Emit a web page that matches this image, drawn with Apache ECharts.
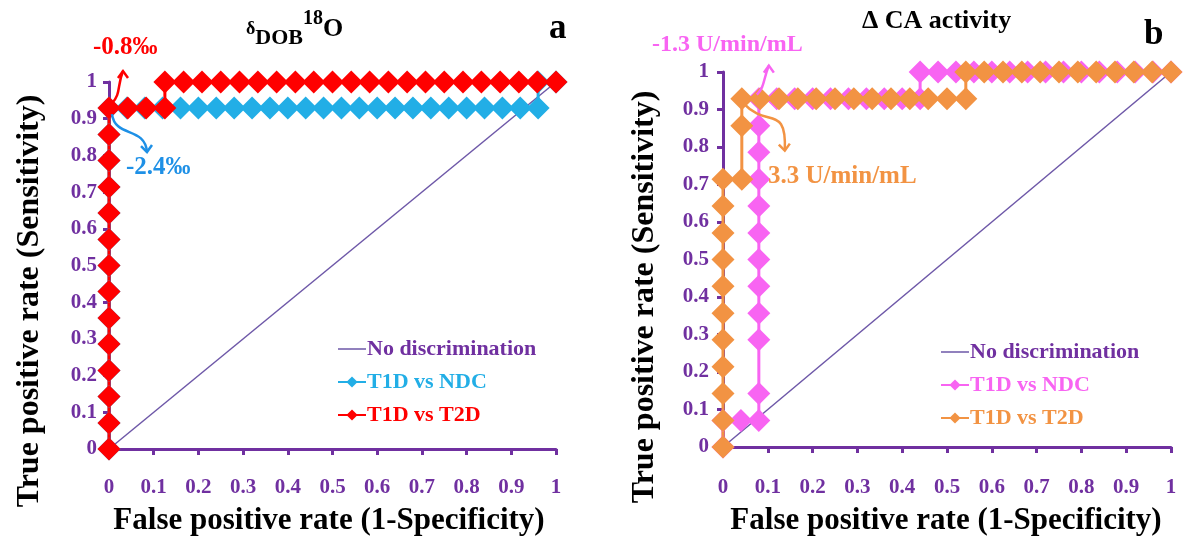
<!DOCTYPE html>
<html><head><meta charset="utf-8">
<script src="https://cdn.jsdelivr.net/npm/echarts@6/dist/echarts.min.js"></script>
<style>html,body{margin:0;padding:0;background:#fff}#c{width:1189px;height:539px}</style>
</head><body><div id="c"></div>
<script>
// ---------- tick labels ----------
const tickLabels = ['0','0.1','0.2','0.3','0.4','0.5','0.6','0.7','0.8','0.9','1'];

// ---------- panel a: δDOB18O ----------
const aDiagX = [0, 1];
const aDiagY = [0, 1];
const aNdcX = [0,0,0,0,0,0,0,0,0,0,0,0,0,0,
  0.04,0.08,0.12,0.16,0.2,0.24,0.28,0.32,0.36,0.4,0.44,0.48,0.52,0.56,0.6,0.64,0.68,0.72,0.76,0.8,0.84,0.88,0.92,0.96,
  0.96,1];
const aNdcY = [0,0.071,0.143,0.214,0.286,0.357,0.429,0.5,0.571,0.643,0.714,0.786,0.857,0.929,
  0.929,0.929,0.929,0.929,0.929,0.929,0.929,0.929,0.929,0.929,0.929,0.929,0.929,0.929,0.929,0.929,0.929,0.929,0.929,0.929,0.929,0.929,0.929,0.929,
  1,1];
const aT2dX = [0,0,0,0,0,0,0,0,0,0,0,0,0,0,
  0.042,0.083,0.125,
  0.125,0.167,0.208,0.25,0.292,0.333,0.375,0.417,0.458,0.5,0.542,0.583,0.625,0.667,0.708,0.75,0.792,0.833,0.875,0.917,0.958,1];
const aT2dY = [0,0.071,0.143,0.214,0.286,0.357,0.429,0.5,0.571,0.643,0.714,0.786,0.857,0.929,
  0.929,0.929,0.929,
  1,1,1,1,1,1,1,1,1,1,1,1,1,1,1,1,1,1,1,1,1,1];

// ---------- panel b: ΔCA activity ----------
const bDiagX = [0, 1];
const bDiagY = [0, 1];
const bNdcX = [0,0,0.04,
  0.08,0.08,0.08,0.08,0.08,0.08,0.08,0.08,0.08,0.08,0.08,0.08,
  0.12,0.16,0.2,0.24,0.28,0.32,0.36,0.4,0.44,
  0.44,0.48,0.52,0.56,0.6,0.64,0.68,0.72,0.76,0.8,0.84,0.88,0.92,0.96,1];
const bNdcY = [0,0.071,0.071,
  0.071,0.143,0.286,0.357,0.429,0.5,0.571,0.643,0.714,0.786,0.857,0.929,
  0.929,0.929,0.929,0.929,0.929,0.929,0.929,0.929,0.929,
  1,1,1,1,1,1,1,1,1,1,1,1,1,1,1];
const bT2dX = [0,0,0,0,0,0,0,0,0,0,0,
  0.042,0.042,0.042,
  0.083,0.125,0.167,0.208,0.25,0.292,0.333,0.375,0.417,0.458,0.5,0.542,
  0.542,0.583,0.625,0.667,0.708,0.75,0.792,0.833,0.875,0.917,0.958,1];
const bT2dY = [0,0.071,0.143,0.214,0.286,0.357,0.429,0.5,0.571,0.643,0.714,
  0.714,0.857,0.929,
  0.929,0.929,0.929,0.929,0.929,0.929,0.929,0.929,0.929,0.929,0.929,0.929,
  1,1,1,1,1,1,1,1,1,1,1,1];

// legend / series labels
const labels = {
  a_diag: 'No discrimination', a_ndc: 'T1D vs NDC', a_t2d: 'T1D vs T2D',
  b_diag: 'No discrimination', b_ndc: 'T1D vs NDC', b_t2d: 'T1D vs T2D'
};

const FONT = '"Liberation Serif","Times New Roman",serif';
const PURPLE = '#7030A0';
const DIAG = '#6E58A8';
const RED = '#FF0000';
const BLUE = '#22AEE6';
const BLUE_TXT = '#1E90E6';
const PINK = '#F864F2';
const ORANGE = '#F29343';
// thin line legend icon (tiny corner dots fix the box so the line stays thin)
const LINE_ICON = 'path://M0,0L0.05,0L0.05,0.05L0,0.05Z M0,6.3L30,6.3L30,7.7L0,7.7Z M29.95,13.95L30,13.95L30,14L29.95,14Z';

const zip = (xs, ys) => xs.map((x, i) => [x, ys[i]]);

function axisDef(gi, margin) {
  return {
    gridIndex: gi, type: 'value', min: 0, max: 1, interval: 0.1,
    axisLine: {show: true, onZero: false, lineStyle: {color: PURPLE, width: 3}},
    axisTick: {show: true, inside: false, length: 6, lineStyle: {color: PURPLE, width: 3}},
    axisLabel: {margin: margin, color: PURPLE, fontFamily: FONT, fontWeight: 'bold', fontSize: 21,
      formatter: v => tickLabels[Math.round(v * 10)]},
    splitLine: {show: false}
  };
}
function curve(gi, name, xs, ys, color, sym) {
  return {
    type: 'line', name: name, xAxisIndex: gi, yAxisIndex: gi, data: zip(xs, ys),
    symbol: sym ? 'diamond' : 'none', symbolSize: 23, clip: false,
    itemStyle: {color: color}, lineStyle: {color: color, width: sym ? 3 : 1.5},
    animation: false, z: sym ? 3 : 2
  };
}
function legendDef(left, top, keys, colors) {
  return {
    orient: 'vertical', left: left, top: top, itemWidth: 28, itemHeight: 14, itemGap: 11,
    selectedMode: false,
    formatter: n => labels[n],
    textStyle: {fontFamily: FONT, fontWeight: 'bold', fontSize: 22, padding: [0, 0, 0, -4]},
    data: keys.map((k, i) => i === 0
      ? {name: k, icon: LINE_ICON, itemStyle: {color: DIAG}, textStyle: {color: colors[i]}}
      : {name: k, textStyle: {color: colors[i]}})
  };
}

const chart = echarts.init(document.getElementById('c'));
chart.setOption({
  backgroundColor: '#fff',
  animation: false,
  grid: [
    {left: 109, top: 82, width: 447, height: 367},
    {left: 723, top: 72, width: 448, height: 375}
  ],
  xAxis: [axisDef(0, 28), axisDef(1, 30)],
  yAxis: [axisDef(0, 12), axisDef(1, 14)],
  legend: [
    legendDef(332, 333, ['a_diag', 'a_ndc', 'a_t2d'], [PURPLE, BLUE, RED]),
    legendDef(935, 336, ['b_diag', 'b_ndc', 'b_t2d'], [PURPLE, PINK, ORANGE])
  ],
  title: [
    {left: 241, top: 4, text: '{d|δ}{s|DOB}{p|18}{o|O}',
      textStyle: {rich: {
        d: {fontFamily: FONT, fontWeight: 'bold', fontSize: 18, color: '#000', verticalAlign: 'middle', lineHeight: 40},
        s: {fontFamily: FONT, fontWeight: 'bold', fontSize: 22, color: '#000', verticalAlign: 'bottom', lineHeight: 40},
        p: {fontFamily: FONT, fontWeight: 'bold', fontSize: 20, color: '#000', verticalAlign: 'top', lineHeight: 40},
        o: {fontFamily: FONT, fontWeight: 'bold', fontSize: 26, color: '#000', verticalAlign: 'middle', lineHeight: 40}
      }}},
    {left: 544, top: 6, text: 'a', textStyle: {fontFamily: FONT, fontWeight: 'bold', fontSize: 35, color: '#000'}},
    {left: 857, top: 3, text: 'Δ CA activity', textStyle: {fontFamily: FONT, fontWeight: 'bold', fontSize: 26, color: '#000'}},
    {left: 1139, top: 12, text: 'b', textStyle: {fontFamily: FONT, fontWeight: 'bold', fontSize: 35, color: '#000'}}
  ],
  series: [
    curve(0, 'a_diag', aDiagX, aDiagY, DIAG, false),
    curve(0, 'a_ndc', aNdcX, aNdcY, BLUE, true),
    curve(0, 'a_t2d', aT2dX, aT2dY, RED, true),
    curve(1, 'b_diag', bDiagX, bDiagY, DIAG, false),
    curve(1, 'b_ndc', bNdcX, bNdcY, PINK, true),
    curve(1, 'b_t2d', bT2dX, bT2dY, ORANGE, true)
  ]
});

// ---------- annotations anchored on data points ----------
function px(gi, pt) { return chart.convertToPixel({gridIndex: gi}, pt); }
function arrow(p0, c1, c2, p1, color, dir) {
  const head = dir === 'up'
    ? [[p1[0] - 5, p1[1] + 7], p1, [p1[0] + 5, p1[1] + 7]]
    : [[p1[0] - 6, p1[1] - 6], p1, [p1[0] + 5, p1[1] - 7]];
  return [
    {type: 'bezierCurve', z: 10, shape: {x1: p0[0], y1: p0[1], cpx1: c1[0], cpy1: c1[1], cpx2: c2[0], cpy2: c2[1], x2: p1[0], y2: p1[1]},
      style: {stroke: color, lineWidth: 2.5, fill: null}},
    {type: 'polyline', z: 10, shape: {points: head}, style: {stroke: color, lineWidth: 2.5, fill: null}}
  ];
}
function txt(x, y, s, color, size, align) {
  return {type: 'text', x: x, y: y, z: 10,
    style: {text: s, fill: color, font: 'bold ' + size + 'px ' + FONT, align: align || 'left', verticalAlign: 'middle'}};
}
function rtxt(x, y, s) {
  return {type: 'text', x: x, y: y, rotation: Math.PI / 2, z: 10,
    style: {text: s, fill: '#000', font: 'bold 32px ' + FONT, align: 'center', verticalAlign: 'middle'}};
}

const A = px(0, [0, 0.929]);     // cut-off point panel a
const B = px(1, [0.042, 0.929]); // cut-off point panel b (T2D)
const P = px(1, [0.08, 0.929]);  // cut-off point panel b (NDC)

const g = [];
g.push(...arrow([A[0] + 3, A[1] - 5], [A[0] + 12, A[1] - 14], [A[0] + 8, A[1] - 22], [A[0] + 14, A[1] - 37], RED, 'up'));
g.push(...arrow([A[0] + 3, A[1] + 6], [A[0] + 6, A[1] + 30], [A[0] + 36, A[1] + 18], [A[0] + 38, A[1] + 44], BLUE_TXT, 'down'));
g.push(...arrow([P[0] - 2, P[1] - 4], [P[0] + 6, P[1] - 12], [P[0] + 4, P[1] - 18], [P[0] + 10, P[1] - 33], PINK, 'up'));
g.push(...arrow([B[0] + 2, B[1] + 5], [B[0] + 25, B[1] + 30], [B[0] + 45, B[1] + 5], [B[0] + 43, B[1] + 52], ORANGE, 'down'));
g.push(txt(93, 48, '-0.8‰', RED, 25));
g.push(txt(126, 168, '-2.4‰', BLUE_TXT, 25));
g.push(txt(652, 45, '-1.3 U/min/mL', PINK, 24));
g.push(txt(768, 177, '3.3 U/min/mL', ORANGE, 25));
// axis titles
g.push(txt(329, 521, 'False positive rate (1-Specificity)', '#000', 31, 'center'));
g.push(txt(946, 521, 'False positive rate (1-Specificity)', '#000', 31, 'center'));
g.push(rtxt(30, 301, 'True positive rate (Sensitivity)'));
g.push(rtxt(645, 297, 'True positive rate (Sensitivity)'));
chart.setOption({graphic: g});
</script>
</body></html>
